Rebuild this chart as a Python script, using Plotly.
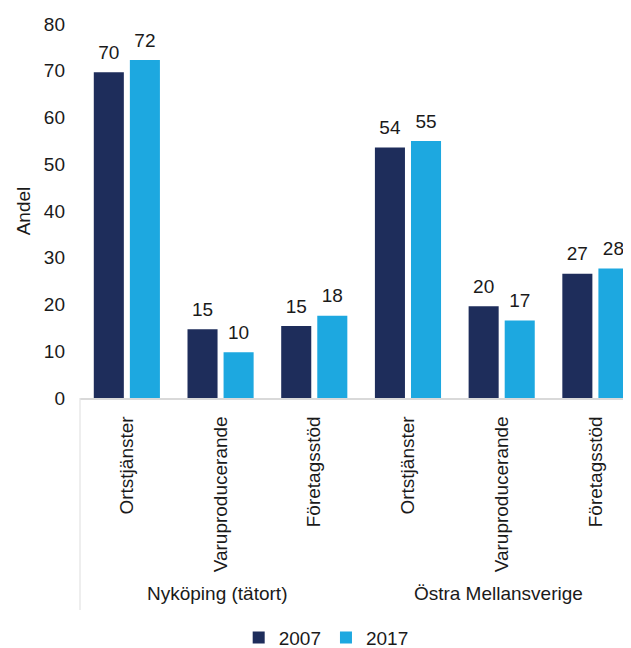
import plotly.graph_objects as go

groups = ["Nyköping (tätort)"] * 3 + ["Östra Mellansverige"] * 3
categories = ["Ortstjänster", "Varuproducerande", "Företagsstöd"] * 2
values_2007 = [69.7, 14.7, 15.4, 53.6, 19.6, 26.6]
values_2017 = [72.3, 9.8, 17.6, 55.0, 16.6, 27.7]
y_ticks = [0, 10, 20, 30, 40, 50, 60, 70, 80]

DARK = "#1e2d5b"
LIGHT = "#1da8e0"
TXT = "#1a1a1a"
FONT = "Liberation Sans, Arial, sans-serif"

fig = go.Figure()
for name, vals, col in [("2007", values_2007, DARK), ("2017", values_2017, LIGHT)]:
    fig.add_trace(go.Bar(
        x=[groups, categories], y=vals, name=name,
        marker=dict(color=col, line=dict(width=0)),
    ))
for name, vals in [("2007", values_2007), ("2017", values_2017)]:
    fig.add_trace(go.Scatter(
        x=[groups, categories], y=vals, name=name + " labels",
        mode="markers+text", showlegend=False, hoverinfo="skip",
        marker=dict(size=12, opacity=0),
        text=[f"{v:.0f}" for v in vals], textposition="top center",
        textfont=dict(size=19, color=TXT), cliponaxis=False,
    ))

fig.update_layout(
    width=623, height=640,
    margin=dict(l=72, r=0, t=16, b=250, autoexpand=False),
    paper_bgcolor="white", plot_bgcolor="white",
    font=dict(family=FONT, size=19, color=TXT),
    barmode="group", bargap=0.23, bargroupgap=0.167,
    scattermode="group", scattergap=0.23,
    showlegend=True,
    legend=dict(orientation="h", x=0.288, xanchor="left",
                yref="container", y=0.016, yanchor="middle",
                font=dict(size=19, color=TXT), itemwidth=30),
    shapes=[dict(type="line", xref="paper", yref="paper", x0=0, x1=0,
                 y0=0, y1=-0.567, line=dict(color="#e3e3e3", width=1.2))],
)
fig.update_yaxes(
    range=[0, 80], tickvals=y_ticks, showgrid=False, zeroline=False,
    showline=False, ticks="", tickfont=dict(size=19, color=TXT),
    ticklabelstandoff=14, automargin=False,
    title=dict(text="Andel", font=dict(size=19, color=TXT), standoff=8),
)
fig.update_xaxes(
    type="multicategory", tickangle=-90, showline=True, linecolor="#d9d9d9",
    linewidth=1.5, ticks="", showgrid=False, automargin=False,
    range=[-0.5, 5.38],
    tickfont=dict(size=19, color=TXT), ticklabelstandoff=9,
    showdividers=False,
)

fig.write_html("out.html")
